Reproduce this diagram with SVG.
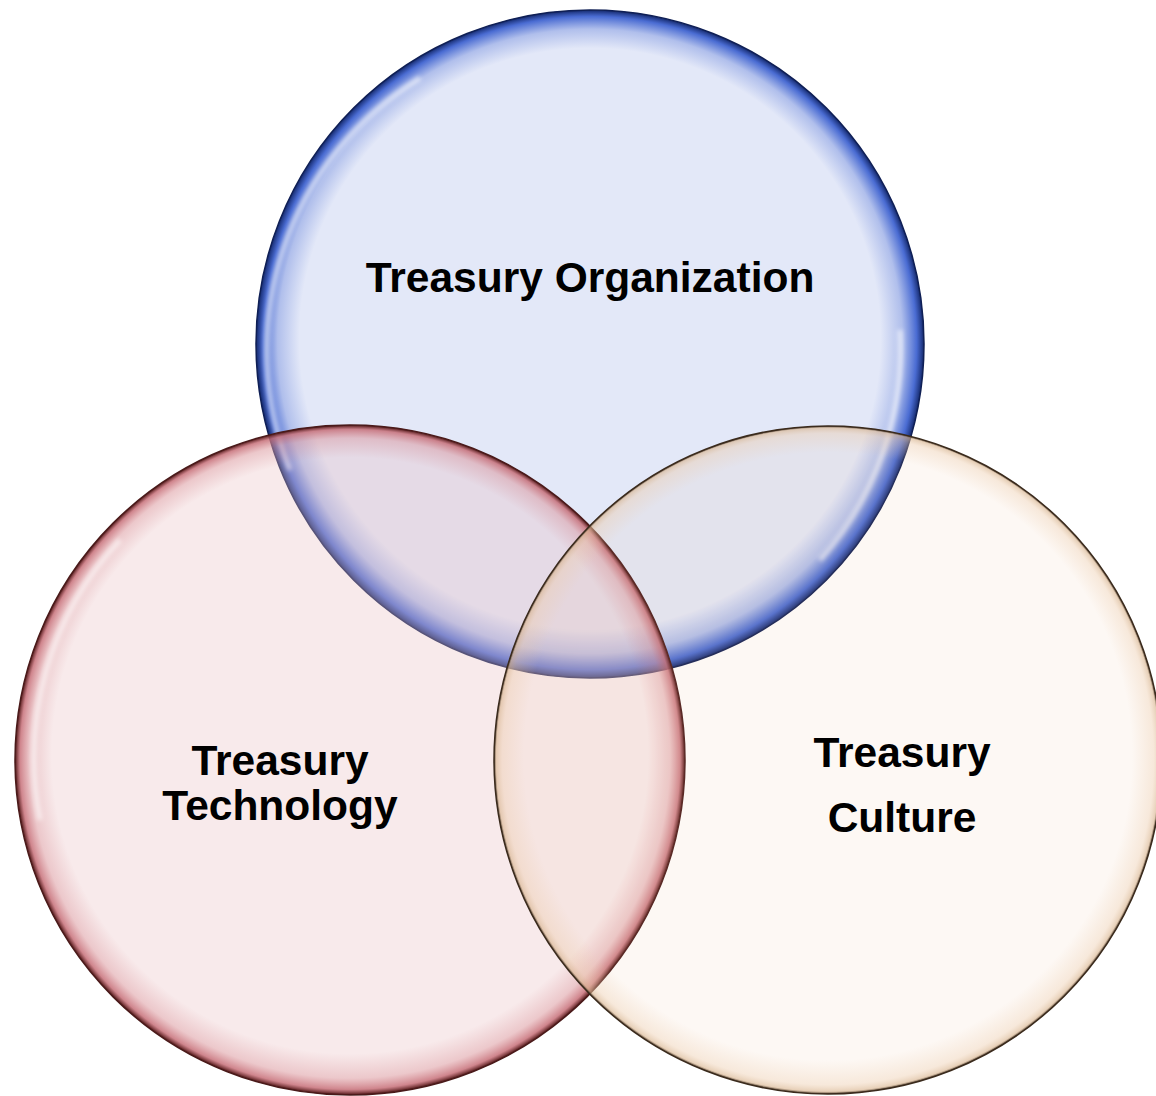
<svg xmlns="http://www.w3.org/2000/svg" width="1156" height="1096" viewBox="0 0 1156 1096">
  <defs>
    <radialGradient id="rimBlue" cx="0.5" cy="0.5" r="0.5" fx="0.5" fy="0.44">
      <stop offset="0" stop-color="#3a5fcf" stop-opacity="0"/>
      <stop offset="0.87" stop-color="#3a5fcf" stop-opacity="0"/>
      <stop offset="0.935" stop-color="#3a5fcf" stop-opacity="0.3"/>
      <stop offset="0.978" stop-color="#2f56cc" stop-opacity="0.85"/>
      <stop offset="1" stop-color="#14286a" stop-opacity="1"/>
    </radialGradient>
    <radialGradient id="rimRed" cx="0.5" cy="0.5" r="0.5" fx="0.5" fy="0.44">
      <stop offset="0" stop-color="#d07880" stop-opacity="0"/>
      <stop offset="0.89" stop-color="#d07880" stop-opacity="0"/>
      <stop offset="0.955" stop-color="#d07880" stop-opacity="0.3"/>
      <stop offset="0.985" stop-color="#c2646e" stop-opacity="0.75"/>
      <stop offset="1" stop-color="#4a1212" stop-opacity="1"/>
    </radialGradient>
    <radialGradient id="rimOrange" cx="0.5" cy="0.5" r="0.5" fx="0.5" fy="0.44">
      <stop offset="0" stop-color="#ecccac" stop-opacity="0"/>
      <stop offset="0.91" stop-color="#ecccac" stop-opacity="0"/>
      <stop offset="0.975" stop-color="#ecccac" stop-opacity="0.35"/>
      <stop offset="0.993" stop-color="#d8b590" stop-opacity="0.6"/>
      <stop offset="1" stop-color="#3a2a1c" stop-opacity="1"/>
    </radialGradient>
    <filter id="soft" x="-10%" y="-10%" width="120%" height="120%">
      <feGaussianBlur stdDeviation="2"/>
    </filter>
  </defs>
  <style>
    .label { font-family: "Liberation Sans", Arial, sans-serif; font-weight: bold; font-size: 42.5px; fill: #000; text-anchor: middle; }
    .hl { fill: none; stroke: #ffffff; stroke-width: 5; stroke-opacity: 0.6; filter: url(#soft); }
  </style>
  <rect width="1156" height="1096" fill="#ffffff"/>

  <g id="node-organization">
    <circle cx="590" cy="344" r="334" fill="#e3e8f8"/>
    <circle cx="590" cy="344" r="334" fill="url(#rimBlue)"/>
    <path class="hl" d="M 290 470 A 318 318 0 0 1 420 78"/>
    <path class="hl" d="M 900 330 A 318 318 0 0 1 820 560"/>
    <circle cx="590" cy="344" r="334" fill="none" stroke="#0f1f55" stroke-width="1.5"/>
    <text class="label" x="590" y="292">Treasury Organization</text>
  </g>

  <g id="node-technology">
    <circle cx="350" cy="760" r="335" fill="#e9bfc2" fill-opacity="0.33"/>
    <circle cx="350" cy="760" r="335" fill="url(#rimRed)"/>
    <path class="hl" d="M 40 820 A 318 318 0 0 1 120 540"/>
    <circle cx="350" cy="760" r="335" fill="none" stroke="#4a1a1a" stroke-width="1.5"/>
  </g>

  <g id="node-culture">
    <circle cx="828" cy="760" r="334" fill="#ebb991" fill-opacity="0.1"/>
    <circle cx="828" cy="760" r="334" fill="url(#rimOrange)"/>
    <circle cx="828" cy="760" r="334" fill="none" stroke="#3a2a1c" stroke-width="1.5"/>
  </g>

  <g id="labels">
    <text class="label" x="280" y="775">Treasury</text>
    <text class="label" x="280" y="820">Technology</text>
    <text class="label" x="902" y="767">Treasury</text>
    <text class="label" x="902" y="832">Culture</text>
  </g>
</svg>
